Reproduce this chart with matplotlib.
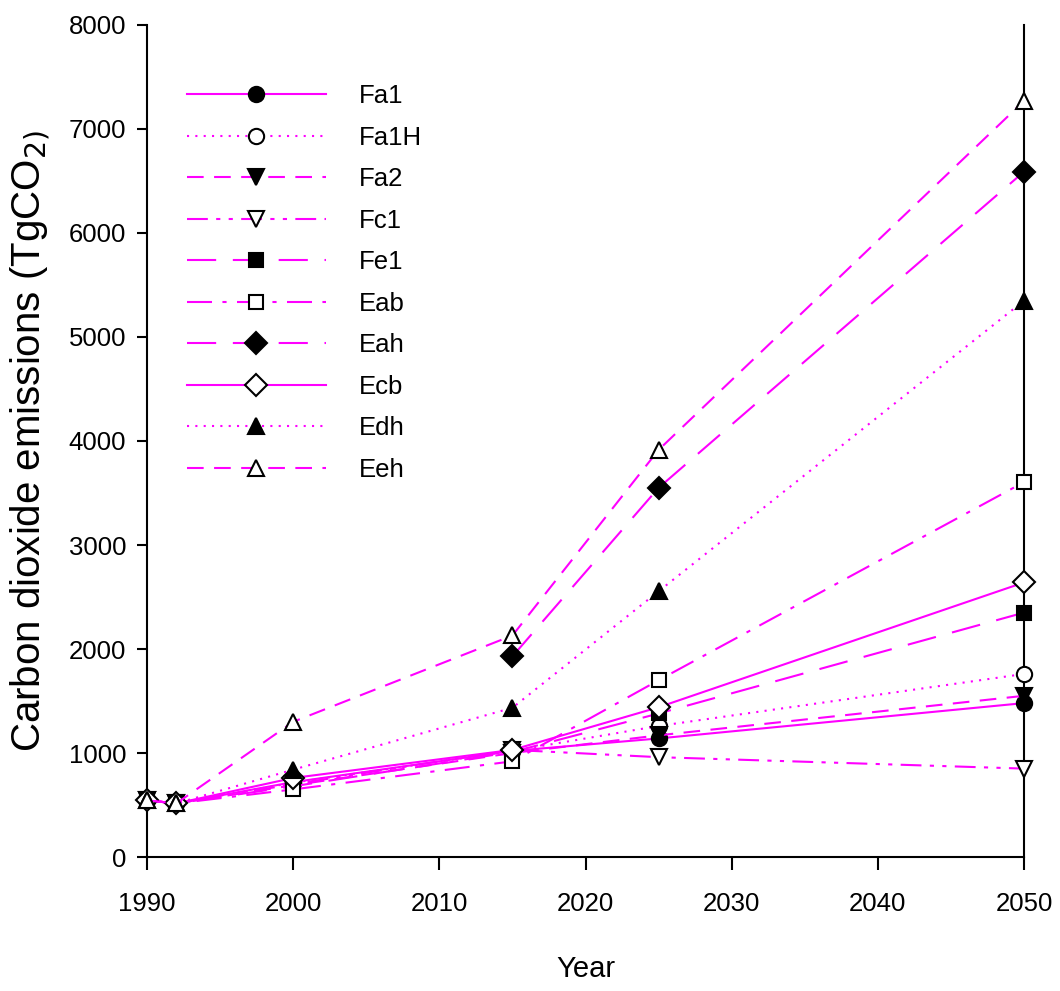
import matplotlib
matplotlib.use("Agg")
import matplotlib.pyplot as plt
import numpy as np

plt.rcParams['font.family'] = ['Liberation Sans', 'DejaVu Sans']

years = [1990, 1992, 2000, 2015, 2025, 2050]

names = ['Fa1', 'Fa1H', 'Fa2', 'Fc1', 'Fe1', 'Eab', 'Eah', 'Ecb', 'Edh', 'Eeh']

Fa1 = [545, 515, 720, 1020, 1140, 1480]
Fa1H = [545, 515, 715, 1020, 1260, 1760]
Fa2 = [545, 515, 690, 1000, 1170, 1550]
Fc1 = [545, 515, 700, 1030, 960, 850]
Fe1 = [545, 515, 680, 1010, 1380, 2350]
Eab = [545, 515, 650, 920, 1700, 3605]
Eah = [np.nan, np.nan, np.nan, 1930, 3550, 6590]
Ecb = [545, 515, 760, 1030, 1440, 2640]
Edh = [545, 515, 840, 1435, 2555, 5350]
Eeh = [545, 515, 1300, 2130, 3915, 7270]

series = [Fa1, Fa1H, Fa2, Fc1, Fe1, Eab, Eah, Ecb, Edh, Eeh]

styles = [
    ('-', 'o', 'black'),
    ((0, (1, 3)), 'o', 'white'),
    ((0, (8, 5)), 'v', 'black'),
    ((0, (10, 4, 2, 4, 2, 4)), 'v', 'white'),
    ((0, (14, 8)), 's', 'black'),
    ((0, (12, 5, 2, 5)), 's', 'white'),
    ((0, (14, 8)), 'D', 'black'),
    ('-', 'D', 'white'),
    ((0, (1, 3)), '^', 'black'),
    ((0, (8, 5)), '^', 'white'),
]

fig = plt.figure(figsize=(10.6, 9.91), dpi=100)
ax = fig.add_axes([0.1387, 0.1352, 0.8274, 0.8396])

for name, vals, (ls, mk, fc) in zip(names, series, styles):
    msize = 10 if mk == 's' else (11.5 if mk == 'D' else 11)
    ax.plot(years, vals, color='#ff00ff', linestyle=ls, linewidth=1.5,
            marker=mk, markersize=msize, markerfacecolor=fc,
            markeredgecolor='black', markeredgewidth=1.5, label=name,
            clip_on=False, zorder=3)

ax.set_xlim(1990, 2050)
ax.set_ylim(0, 8000)
ax.set_xticks(range(1990, 2051, 10))
ax.set_yticks(range(0, 8001, 1000))

ax.spines['top'].set_visible(False)
for s in ['left', 'bottom', 'right']:
    ax.spines[s].set_linewidth(1.5)
ax.tick_params(axis='both', direction='out', width=1.5, labelsize=18.5)
ax.tick_params(axis='x', length=9, pad=16)
ax.tick_params(axis='y', length=7, pad=8, right=False)

ax.set_xlabel('Year', fontsize=21, labelpad=28)
ax.set_ylabel('Carbon dioxide emissions (TgCO$_{2)}$', fontsize=29, labelpad=12)

ax.legend(loc='upper left', bbox_to_anchor=(0.031, 0.944), frameon=False,
          fontsize=18.5, handlelength=5.4, handletextpad=1.3,
          labelspacing=0.68, numpoints=1, borderpad=0)

fig.savefig('out.png', dpi=100)
